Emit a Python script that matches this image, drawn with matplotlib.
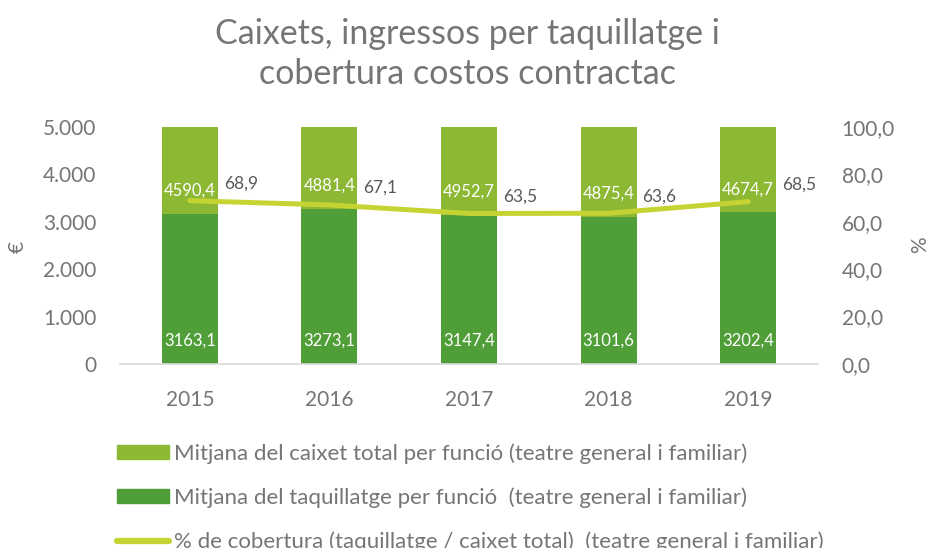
import matplotlib.pyplot as plt
from matplotlib.patches import Patch
from matplotlib.lines import Line2D
from matplotlib.ticker import FuncFormatter

plt.rcParams['font.family'] = ['Lato', 'DejaVu Sans']

years = ['2015', '2016', '2017', '2018', '2019']
taquillatge = [3163.1, 3273.1, 3147.4, 3101.6, 3202.4]
caixet_total = [4590.4, 4881.4, 4952.7, 4875.4, 4674.7]
cobertura = [68.9, 67.1, 63.5, 63.6, 68.5]

c_light = '#8CB833'
c_dark = '#509E38'
c_line = '#C6D433'
grey = '#757575'

fig = plt.figure(figsize=(9.29, 5.48), dpi=100)
ax = fig.add_axes([0.1292, 0.3358, 0.7513, 0.4325])
x = list(range(len(years)))

ax.bar(x, taquillatge, width=0.4, color=c_dark, zorder=2)
ax.bar(x, caixet_total, width=0.4, bottom=taquillatge, color=c_light, zorder=2)
ax.set_ylim(0, 5000)
ax.set_xlim(-0.5, len(years) - 0.5)

ax2 = ax.twinx()
ax2.plot(x, cobertura, color=c_line, linewidth=3.6, solid_capstyle='round', zorder=3)
ax2.set_ylim(0, 100)

# left axis: euros
ax.yaxis.set_major_formatter(FuncFormatter(lambda v, p: f'{int(v):,}'.replace(',', '.')))
ax.set_yticks(range(0, 5001, 1000))
ax.set_xticks(x)
ax.set_xticklabels(years)
ax.tick_params(axis='x', length=0, labelsize=15, labelcolor=grey, pad=19)
ax.tick_params(axis='y', length=0, labelsize=15, labelcolor=grey, pad=17)
for s in ['top', 'right', 'left']:
    ax.spines[s].set_visible(False)
ax.spines['bottom'].set_color('#D9D9D9')
ax.spines['bottom'].set_linewidth(1.2)

# right axis: percentage
ax2.set_yticks(range(0, 101, 20))
ax2.yaxis.set_major_formatter(FuncFormatter(lambda v, p: f'{v:.1f}'.replace('.', ',')))
ax2.tick_params(axis='y', length=0, labelsize=15, labelcolor=grey, pad=17)
for s in ['top', 'right', 'left', 'bottom']:
    ax2.spines[s].set_visible(False)

fig.text(18 / 929, 1 - 247 / 548, '€', rotation=90, ha='center', va='center',
         fontsize=15, color=grey)
fig.text(920 / 929, 1 - 245 / 548, '%', rotation=90, ha='center', va='center',
         fontsize=15, color=grey)

# bar value labels, placed near the base of each segment
for i in x:
    ax.annotate(f'{taquillatge[i]:.1f}'.replace('.', ','), (i, 0), xytext=(0, 23),
                textcoords='offset pixels', ha='center', va='center',
                color='white', fontsize=12, zorder=4)
    ax.annotate(f'{caixet_total[i]:.1f}'.replace('.', ','), (i, taquillatge[i]), xytext=(0, 23),
                textcoords='offset pixels', ha='center', va='center',
                color='white', fontsize=12, zorder=4)

for i in x:
    ax2.annotate(f'{cobertura[i]:.1f}'.replace('.', ','), (i, cobertura[i]), xytext=(34, 17),
                 textcoords='offset pixels', ha='left', va='center',
                 color='#595959', fontsize=12.5)

fig.text(0.503, 1 - 54 / 548, 'Caixets, ingressos per taquillatge i\ncobertura costos contractac',
         ha='center', va='center', fontsize=24.5, color=grey, linespacing=1.3)

handles = [Patch(color=c_light), Patch(color=c_dark),
           Line2D([0], [0], color=c_line, linewidth=4.5, solid_capstyle='round')]
labels = ['Mitjana del caixet total per funció (teatre general i familiar)',
          'Mitjana del taquillatge per funció  (teatre general i familiar)',
          '% de cobertura (taquillatge / caixet total)  (teatre general i familiar)']
fig.legend(handles, labels, loc='upper left', bbox_to_anchor=(117 / 929, 1 - 443 / 548),
           frameon=False, fontsize=16, labelcolor=grey, handlelength=2.34,
           handleheight=0.59, handletextpad=0.23, labelspacing=1.07, borderaxespad=0,
           borderpad=0)

fig.savefig('out.png', dpi=100)
